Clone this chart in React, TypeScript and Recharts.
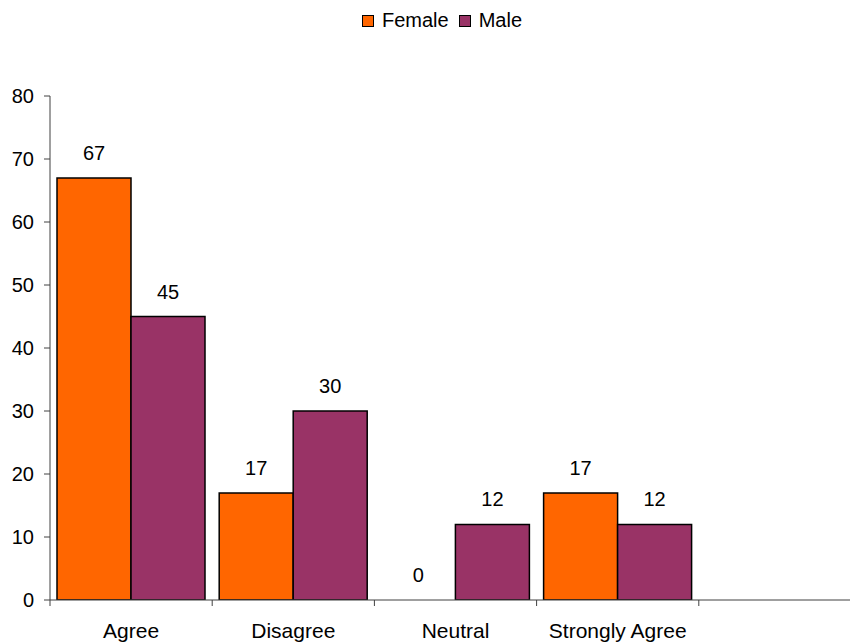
import React from 'react';
import { BarChart, Bar, XAxis, YAxis, Legend, LabelList } from 'recharts';

// survey answers, last slot left empty like the original sheet
const categories = ['Agree', 'Disagree', 'Neutral', 'Strongly Agree', ''];
const female = [67, 17, 0, 17, undefined];
const male = [45, 30, 12, 12, undefined];
const yTicks = [0, 10, 20, 30, 40, 50, 60, 70, 80];

const FEMALE_COLOR = '#FF6600';
const MALE_COLOR = '#993366';
const AXIS_COLOR = '#404040';
const FONT = '"Liberation Sans", Arial, sans-serif';

const data = categories.map((name, i) => ({ name, Female: female[i], Male: male[i] }));

// Excel style: tick marks sit between categories, label sits in the middle
const CategoryTick = (props: any) => {
  const { x, y, payload, width } = props;
  const half = payload && payload.offset ? payload.offset : width / categories.length / 2;
  return (
    <g>
      <line x1={x - half} y1={y - 23} x2={x - half} y2={y - 17} stroke={AXIS_COLOR} strokeWidth={1} />
      <text x={x} y={y} dy="0.71em" textAnchor="middle" fill="#000" fontSize={21} fontFamily={FONT}>
        {payload.value}
      </text>
    </g>
  );
};

const LegendContent = () => (
  <div style={{ display: 'flex', alignItems: 'center', fontFamily: FONT, fontSize: 20, color: '#000' }}>
    {[
      { label: 'Female', color: FEMALE_COLOR },
      { label: 'Male', color: MALE_COLOR },
    ].map((item) => (
      <span key={item.label} style={{ display: 'flex', alignItems: 'center', marginRight: 10 }}>
        <span
          style={{
            display: 'inline-block',
            width: 10,
            height: 10,
            background: item.color,
            border: '1px solid #000',
            marginRight: 8,
          }}
        />
        {item.label}
      </span>
    ))}
  </div>
);

const labelText = (x: number, y: number, value: any, key?: string) => (
  <text key={key} x={x} y={y - 18} textAnchor="middle" fill="#000" fontSize={20} fontFamily={FONT}>
    {String(value)}
  </text>
);

const FemaleLabel = (props: any) => {
  const { x, y, width, value } = props;
  if (value === undefined || value === null) return null;
  return labelText(x + width / 2, y, value);
};

// recharts drops zero height bars, so the female "0" is placed next to the male bar
const MaleLabel = (props: any) => {
  const { x, y, width, height, value, index } = props;
  if (value === undefined || value === null) return null;
  const out = [labelText(x + width / 2, y, value, 'm')];
  if (index !== undefined && female[index] === 0) {
    out.push(labelText(x - width / 2, y + height, 0, 'f'));
  }
  return <g>{out}</g>;
};

const App: React.FC = () => {
  return (
    <div style={{ position: 'absolute', left: 0, top: 0, width: 850, height: 643, overflow: 'hidden', background: '#fff' }}>
      <BarChart
        width={861}
        height={643}
        data={data}
        margin={{ top: 96, right: 0, bottom: 0, left: 0 }}
        barSize={74}
        barGap={0}
      >
        <Legend
          verticalAlign="middle"
          content={<LegendContent />}
          wrapperStyle={{ top: 9, left: 362, width: 'auto' }}
        />
        <XAxis
          dataKey="name"
          height={43}
          tickLine={false}
          tickSize={6}
          tickMargin={17}
          axisLine={{ stroke: AXIS_COLOR }}
          tick={<CategoryTick />}
          interval={0}
        />
        <YAxis
          width={50}
          domain={[0, 80]}
          ticks={yTicks}
          tickSize={6}
          tickMargin={10}
          axisLine={{ stroke: AXIS_COLOR }}
          tickLine={{ stroke: AXIS_COLOR }}
          tick={{ fill: '#000', fontSize: 20, fontFamily: FONT }}
          allowDataOverflow
        />
        <Bar dataKey="Female" fill={FEMALE_COLOR} stroke="#000" strokeWidth={1.5} isAnimationActive={false}>
          <LabelList dataKey="Female" content={<FemaleLabel />} />
        </Bar>
        <Bar dataKey="Male" fill={MALE_COLOR} stroke="#000" strokeWidth={1.5} isAnimationActive={false}>
          <LabelList dataKey="Male" content={<MaleLabel />} />
        </Bar>
      </BarChart>
    </div>
  );
};

export default App;
